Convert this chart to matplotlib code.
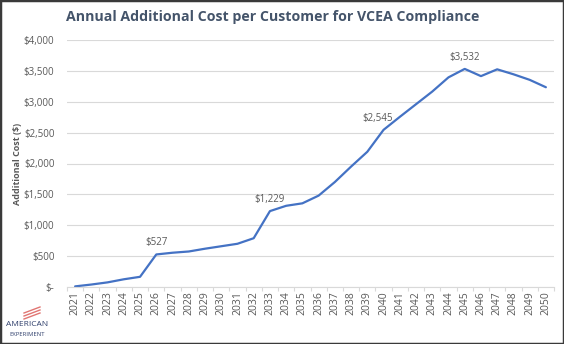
import numpy as np
import matplotlib.pyplot as plt
from matplotlib.patches import Rectangle
from matplotlib.ticker import FuncFormatter, MultipleLocator

plt.rcParams['font.family'] = ['Open Sans', 'DejaVu Sans']

# Data
years = [str(y) for y in range(2021, 2051)]
cost = [10, 40, 75, 125, 165, 527, 555, 575, 620, 660, 700, 790, 1229, 1315,
        1355, 1480, 1700, 1950, 2190, 2545, 2755, 2960, 3165, 3395, 3532,
        3415, 3525, 3445, 3355, 3235]
labelled = {'2026': '$527', '2033': '$1,229', '2040': '$2,545', '2045': '$3,532'}

title = 'Annual Additional Cost per Customer for VCEA Compliance'
ylabel = 'Additional Cost ($)'

line_color = '#4472C4'
text_color = '#595959'
grid_color = '#D9D9D9'

fig = plt.figure(figsize=(5.64, 3.44), dpi=100)
ax = fig.add_axes([67 / 564, 57 / 344, 487 / 564, 247 / 344])

x = np.arange(len(years))
ax.plot(x, cost, color=line_color, lw=1.6, solid_capstyle='round')

# data labels
for yr, txt in labelled.items():
    i = years.index(yr)
    dx = -4 if yr == '2040' else 0
    ax.annotate(txt, (i, cost[i]), xytext=(dx, 8.5), textcoords='offset points',
                ha='center', va='center', fontsize=7, color=text_color)

ax.set_xlim(-0.5, len(years) - 0.5)
ax.set_ylim(0, 4000)
ax.yaxis.set_major_locator(MultipleLocator(500))
ax.yaxis.set_major_formatter(FuncFormatter(
    lambda v, p: '$-' if v == 0 else '${:,.0f}'.format(v)))
ax.set_xticks(x)
ax.set_xticklabels(years, rotation=90)
ax.set_xticks(np.arange(-0.5, len(years)), minor=True)

ax.grid(axis='y', color=grid_color, lw=0.8)
ax.set_axisbelow(True)
for s in ['top', 'right', 'left']:
    ax.spines[s].set_visible(False)
ax.spines['bottom'].set_color(grid_color)
ax.spines['bottom'].set_linewidth(0.8)

ax.tick_params(axis='y', length=0, pad=9, labelsize=7, labelcolor=text_color)
ax.tick_params(axis='x', which='major', length=0, pad=3, labelsize=7.5,
               labelcolor=text_color)
ax.tick_params(axis='x', which='minor', length=3, color=grid_color, width=0.8)

ax.set_ylabel(ylabel, fontsize=6.5, fontweight='bold', color=text_color)
ax.yaxis.set_label_coords(-0.092, 0.5)

fig.text(0.483, 0.95, title, ha='center', va='center', fontsize=10.2,
         fontweight='bold', color='#44546A')

# logo
for k in range(3):
    fig.add_artist(plt.Line2D([24 / 564, 40 / 564],
                              [(31 - k * 3) / 344, (37 - k * 3) / 344],
                              color='#D9534F', lw=1.0, alpha=0.8))
fig.text(27 / 564, 20 / 344, 'AMERICAN', ha='center', va='center',
         fontsize=6, color='#2E3E6B')
fig.text(27 / 564, 10 / 344, 'EXPERIMENT', ha='center', va='center',
         fontsize=4.2, color='#2E3E6B')

# outer frame
fig.add_artist(Rectangle((0, 0), 1, 1, transform=fig.transFigure, fill=False,
                         edgecolor='#3A3A3A', lw=2.5))

fig.savefig('out.png', dpi=100)
